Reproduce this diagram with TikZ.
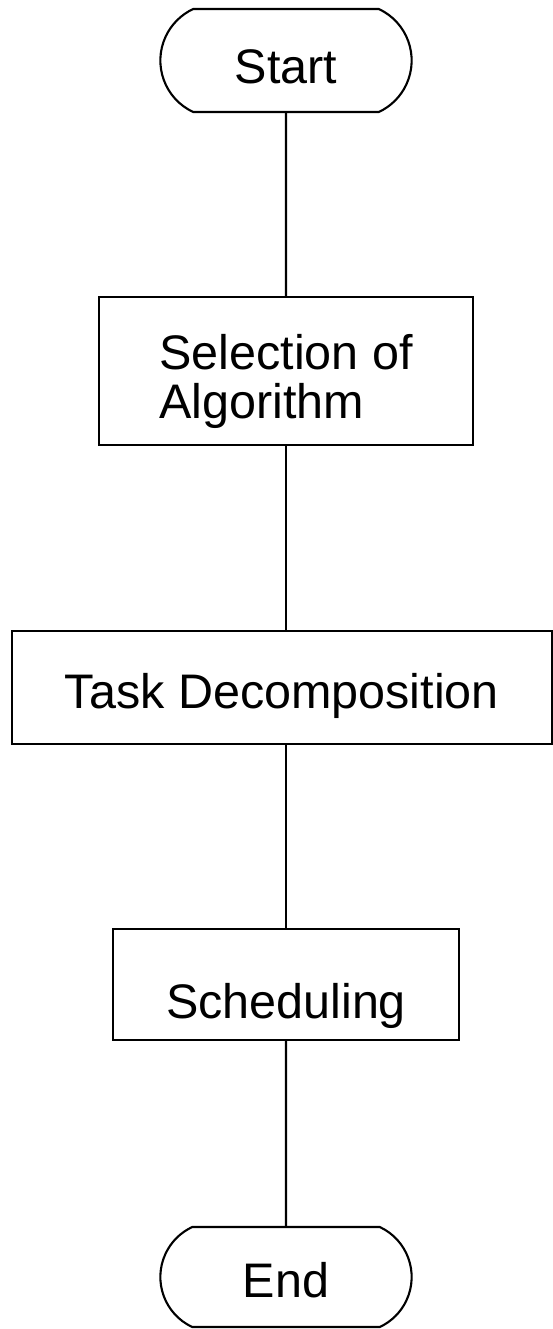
\documentclass[tikz,border=0pt]{standalone}
\usepackage{fontspec}
\setmainfont{Liberation Sans}
\usetikzlibrary{shapes.misc}

\begin{document}
\begin{tikzpicture}[every node/.style={draw, line width=1.2pt, font=\fontsize{27.6}{27.6}\selectfont},
        term/.style={rounded rectangle, rounded rectangle arc length=130, minimum width=5.26cm, minimum height=2.06cm},
        lift/.style={text height=#1, text depth=0pt}]
        \useasboundingbox (0,0) rectangle (11.06,-26.58);
        \node (start) [term, lift=0.9cm] at (5.72,-1.21) {Start};
        \node (select) [minimum width=7.48cm, minimum height=2.96cm, align=left, lift=1.88cm] at (5.72,-7.42) {Selection of\\Algorithm};
        \node (task) [minimum width=10.8cm, minimum height=2.26cm, lift=0.84cm] at (5.64,-13.75) {Task Decomposition};
        \node (sched) [minimum width=6.92cm, minimum height=2.22cm, lift=1.36cm] at (5.72,-19.69) {Scheduling};
        \node (end) [term, minimum height=2.0cm, lift=0.8cm] at (5.72,-25.54) {End};
        
        \path[draw, line width=1.2pt]
            (start) edge (select)
            (select.south) edge (task.north -| select.south)
            (task.south -| sched.north) edge (sched)
            (sched) edge (end);
\end{tikzpicture}
\end{document}
